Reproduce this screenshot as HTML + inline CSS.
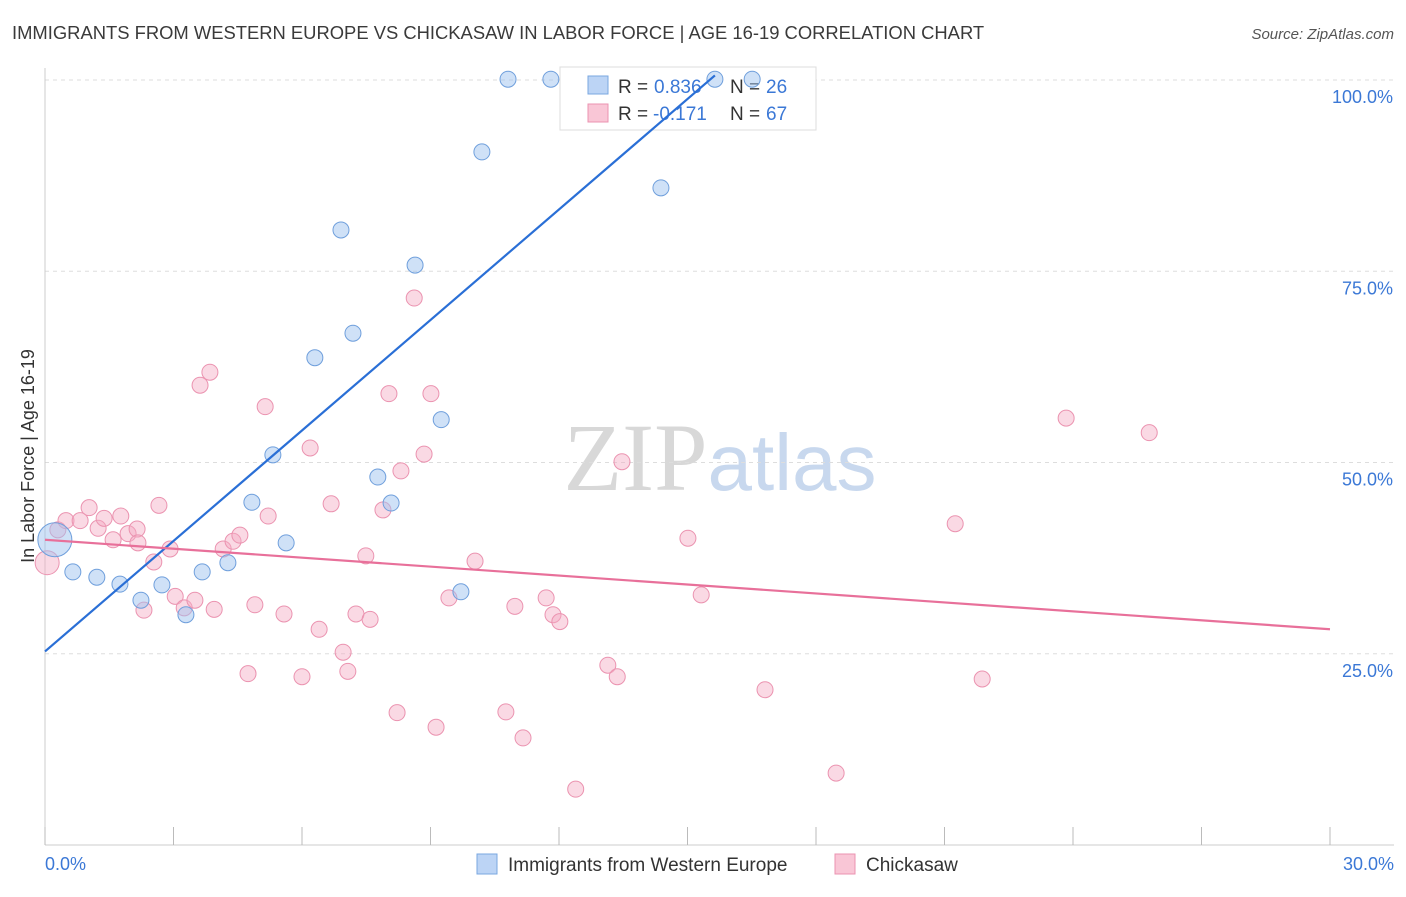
<!DOCTYPE html>
<html><head><meta charset="utf-8"><style>
body{margin:0;background:#fff;font-family:"Liberation Sans",sans-serif;}
svg text{font-family:"Liberation Sans",sans-serif;}
</style></head><body>
<svg id="chart" width="1406" height="892" xmlns="http://www.w3.org/2000/svg">
<text x="12" y="39" font-size="18.4" fill="#3a3a3a">IMMIGRANTS FROM WESTERN EUROPE VS CHICKASAW IN LABOR FORCE | AGE 16-19 CORRELATION CHART</text>
<text x="1394" y="39" font-size="15" fill="#555" font-style="italic" text-anchor="end">Source: ZipAtlas.com</text>
<text x="720" y="490" font-size="96" text-anchor="middle"><tspan fill="#d8d8d8" font-family="Liberation Serif">ZIP</tspan><tspan fill="#c8d8ee" font-size="80">atlas</tspan></text>
<g id="grid"></g>
<g id="axes"></g>
<g>
<rect x="560" y="67" width="256" height="63" fill="#fff" stroke="#ddd"/>
<rect x="588" y="76" width="20" height="18" fill="#bcd4f5" stroke="#7aa7e0"/>
<rect x="588" y="104" width="20" height="18" fill="#f9c6d6" stroke="#eb93b0"/>
<text x="618" y="93" font-size="19" fill="#333">R =</text>
<text x="654" y="93" font-size="19" fill="#3b78d6">0.836</text>
<text x="730" y="93" font-size="19" fill="#333">N =</text>
<text x="766" y="93" font-size="19" fill="#3b78d6">26</text>
<text x="618" y="120" font-size="19" fill="#333">R =</text>
<text x="653" y="120" font-size="19" fill="#3b78d6">-0.171</text>
<text x="730" y="120" font-size="19" fill="#333">N =</text>
<text x="766" y="120" font-size="19" fill="#3b78d6">67</text>
</g>
<g id="marks"></g>
<text transform="translate(34,456) rotate(-90)" font-size="18" fill="#333" text-anchor="middle">In Labor Force | Age 16-19</text>
<g>
<rect x="477" y="854" width="20" height="20" fill="#bcd4f5" stroke="#7aa7e0"/>
<text x="508" y="871" font-size="19" fill="#333">Immigrants from Western Europe</text>
<rect x="835" y="854" width="20" height="20" fill="#f9c6d6" stroke="#eb93b0"/>
<text x="866" y="871" font-size="19" fill="#333">Chickasaw</text>
</g>
</svg>
<script>
const yTicks=[25,50,75,100];
const xTickLabels=["0.0%","30.0%"];
const blueX=[0.23,0.65,1.21,1.75,2.24,2.73,3.29,3.67,4.27,4.83,5.32,5.63,6.30,6.91,7.19,7.77,8.08,8.64,9.25,9.71,10.20,10.81,11.81,14.38,15.64,16.51];
const blueY=[39.9,35.7,35.0,34.1,32.0,34.0,30.1,35.7,36.9,44.8,51.0,39.5,63.7,80.4,66.9,48.1,44.7,75.8,55.6,33.1,90.6,100.1,100.1,85.9,100.1,100.1];
const pinkX=[0.05,0.30,0.49,0.82,1.03,1.24,1.38,1.59,1.77,1.94,2.15,2.54,2.66,2.92,2.31,3.04,3.25,3.50,3.62,3.85,3.95,4.16,4.39,4.55,4.90,5.14,5.21,4.74,5.58,6.00,6.19,6.40,6.68,6.96,7.07,7.26,7.49,7.59,7.89,8.03,8.22,8.31,8.62,8.85,9.01,9.13,9.43,10.04,10.76,10.97,11.16,11.70,11.86,12.02,12.39,13.14,13.36,13.47,15.01,15.32,16.81,18.47,21.25,21.88,23.84,25.78,2.17];
const pinkY=[36.9,41.2,42.4,42.4,44.1,41.4,42.7,39.9,43.0,40.7,41.3,37.0,44.4,38.7,30.7,32.5,31.0,32.0,60.1,61.8,30.8,38.7,39.7,40.5,31.4,57.3,43.0,22.4,30.2,22.0,51.9,28.2,44.6,25.2,22.7,30.2,37.8,29.5,43.8,59.0,17.3,48.9,71.5,51.1,59.0,15.4,32.3,37.1,17.4,31.2,14.0,32.3,30.1,29.2,7.3,23.5,22.0,50.1,40.1,32.7,20.3,9.4,42.0,21.7,55.8,53.9,39.5];
const blueLine=[[0,25.3],[15.64,100.6]];
const pinkLine=[[0,39.9],[30,28.2]];
const NS="http://www.w3.org/2000/svg";
const sx=v=>45+v*42.833, sy=v=>845-v*7.65;
function mk(tag,attrs,parent){const e=document.createElementNS(NS,tag);for(const k in attrs)e.setAttribute(k,attrs[k]);document.getElementById(parent).appendChild(e);return e;}
yTicks.forEach(t=>{
 const l=mk('line',{x1:45,x2:1394,y1:sy(t),y2:sy(t),stroke:'#ddd','stroke-dasharray':'4,4'},'grid');
 
 
 const tx=mk('text',{x:1393,y:sy(t)+23,'font-size':18,fill:'#3b78d6','text-anchor':'end'},'axes');
 tx.textContent=t.toFixed(1)+'%';
 
 
});
const ax=mk('line',{x1:45,x2:1394,y1:845,y2:845,stroke:'#ccc'},'axes');


const ay=mk('line',{x1:45,x2:45,y1:68,y2:845,stroke:'#ccc'},'axes');


for(let i=0;i<=10;i++){
 const t=mk('line',{x1:sx(i*3),x2:sx(i*3),y1:827,y2:845,stroke:'#bbb'},'axes');
 
 
}
const xl0=mk('text',{x:45,y:870,'font-size':18,fill:'#3b78d6'},'axes');xl0.textContent=xTickLabels[0];


const xl1=mk('text',{x:1394,y:870,'font-size':18,fill:'#3b78d6','text-anchor':'end'},'axes');xl1.textContent=xTickLabels[1];


pinkX.forEach((x,i)=>{
 const c=mk('circle',{cx:sx(x),cy:sy(pinkY[i]),r:i===0?12:8,fill:'rgba(244,170,195,0.45)',stroke:'#eb93b0','stroke-width':1},'marks');
 
 
});
blueX.forEach((x,i)=>{
 const c=mk('circle',{cx:sx(x),cy:sy(blueY[i]),r:i===0?17:8,fill:'rgba(160,195,240,0.5)',stroke:'#6f9fdc','stroke-width':1},'marks');
 
 
});
const bl=mk('line',{x1:sx(blueLine[0][0]),y1:sy(blueLine[0][1]),x2:sx(blueLine[1][0]),y2:sy(blueLine[1][1]),stroke:'#2a6fd6','stroke-width':2.2},'marks');


const pl=mk('line',{x1:sx(pinkLine[0][0]),y1:sy(pinkLine[0][1]),x2:sx(pinkLine[1][0]),y2:sy(pinkLine[1][1]),stroke:'#e8709a','stroke-width':2.2},'marks');


</script>
</body></html>
